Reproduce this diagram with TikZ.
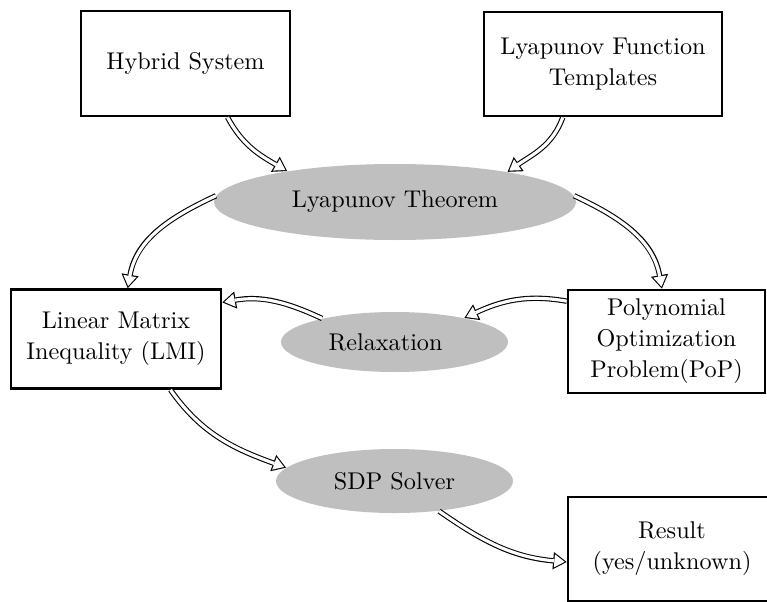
\documentclass[tikz,border=0pt]{standalone}
\usetikzlibrary{arrows.meta,shapes.geometric}
% hollow double arrow: a black stroke with a filled head, then a white core
% with a smaller head inset by the outline width
\newcommand\flowarrow[3]{%
  \draw[flowouter] #1 to[#2] #3;
  \draw[flowinner] #1 to[#2] #3;}
\begin{document}
\begin{tikzpicture}[x=0.4132pt,y=-0.4132pt,
  sz/.style 2 args={minimum width=#1*0.4132pt, minimum height=#2*0.4132pt},
  box/.style={draw, line width=1.1pt, align=center, inner sep=0pt},
  oval/.style={ellipse, fill=lightgray, inner sep=0pt},
  flowouter/.style={draw=black, line width=2.2pt,
    -{Triangle[length=5.6pt, width=7.2pt, line width=0pt]}},
  flowinner/.style={draw=white, line width=1.3pt, shorten >=0.85pt,
    -{Triangle[length=4.25pt, width=5.46pt, line width=0pt]}}]
\useasboundingbox (0,0) rectangle (767,601);
\clip (0,0) rectangle (767,601);

% boxes
\node[box, sz={209}{105}] (hyb) at (185.5,63.5) {Hybrid System};
\node[box, sz={238}{104}] (tmp) at (603,64) {Lyapunov Function\\[0.8pt]Templates};
\node[box, sz={210}{99}]  (lmi) at (116,339) {Linear Matrix\\[0.8pt]Inequality (LMI)};
\node[box, sz={197}{103}] (pop) at (666.5,341.5) {Polynomial\\[0.8pt]Optimization\\[0.8pt]Problem(PoP)};
\node[box, sz={208}{104}] (res) at (672,549) {Result\\[0.8pt](yes/unknown)};

% ellipses
\node[oval, sz={362}{76}] (thm) at (395,202) {Lyapunov Theorem};
\node[oval, sz={227}{60}] (rel) at (394.5,342) {Relaxation\kern7.4pt};
\node[oval, sz={237}{64}] (sdp) at (394.5,481) {SDP Solver};

% connectors
\flowarrow{(hyb.-52)}{out=-62, in=150}{(thm.164)}
\flowarrow{(tmp.233)}{out=-110, in=35}{(thm.15)}
\flowarrow{(thm.178)}{out=205, in=80}{(lmi.77)}
\flowarrow{(thm.2)}{out=-25, in=100}{(pop.95)}
\flowarrow{(rel.162)}{out=155, in=10}{(lmi.19)}
\flowarrow{(pop.158)}{out=170, in=25}{(rel.19)}
\flowarrow{(lmi.-43)}{out=-55, in=160}{(sdp.173)}
\flowarrow{(sdp.-34)}{out=-35, in=175}{(res.187)}
\end{tikzpicture}
\end{document}
